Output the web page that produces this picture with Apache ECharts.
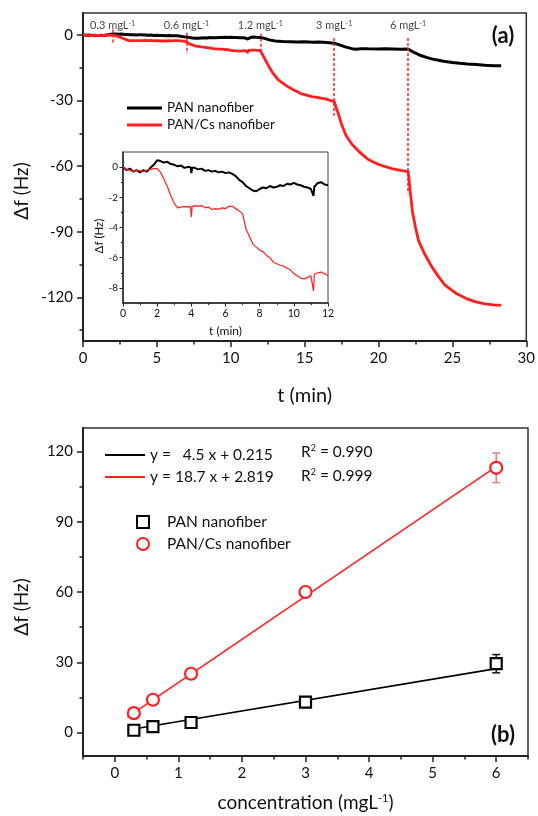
<!DOCTYPE html>
<html><head><meta charset="utf-8">
<script src="https://cdn.jsdelivr.net/npm/echarts@6/dist/echarts.min.js"></script>
<style>html,body{margin:0;padding:0;background:#fff}#c{width:538px;height:816px}</style>
</head><body><div id="c"></div>
<script>
// ---------- Panel (a) data ----------
const tEarly = [0,0.2,0.4,0.6,0.8,1.0,1.2,1.4,1.6,1.8,2.0,2.2,2.4,2.6,2.8,3.0,3.2,3.4,3.6,3.8,3.95,4.0,4.05,4.2,4.4,4.6,4.8,5.0,5.2,5.4,5.6,5.8,6.0,6.2,6.4,6.6,6.8,7.0,7.2,7.4,7.6,7.8,8.0,8.2,8.4,8.6,8.8,9.0,9.2,9.4,9.6,9.8,10.0,10.2,10.4,10.6,10.8,11.0,11.1,11.15,11.2,11.4,11.6,11.8,12.0];
const fPanEarly = [0,-0.2,-0.1,-0.3,-0.2,-0.35,-0.2,-0.3,-0.05,0.15,0.45,0.4,0.3,0.35,0.2,0.15,0.05,0.1,-0.05,0.0,0.0,-0.4,-0.05,-0.05,-0.15,-0.1,-0.25,-0.2,-0.3,-0.25,-0.35,-0.3,-0.4,-0.35,-0.45,-0.6,-0.85,-1.0,-1.25,-1.4,-1.55,-1.6,-1.45,-1.35,-1.4,-1.25,-1.35,-1.3,-1.2,-1.25,-1.1,-1.15,-1.05,-1.15,-1.2,-1.3,-1.35,-1.45,-1.4,-1.9,-1.3,-1.05,-1.0,-1.15,-1.2];
const fCsEarly = [0,-0.15,-0.2,-0.3,-0.2,-0.25,-0.3,-0.2,-0.15,-0.1,-0.1,-0.35,-0.8,-1.3,-1.9,-2.4,-2.7,-2.65,-2.6,-2.65,-2.6,-3.3,-2.6,-2.55,-2.6,-2.55,-2.7,-2.65,-2.8,-2.75,-2.8,-2.7,-2.75,-2.6,-2.6,-2.75,-2.9,-3.1,-4.1,-4.6,-5.1,-5.3,-5.5,-5.6,-5.85,-6.0,-6.3,-6.4,-6.5,-6.55,-6.7,-6.8,-7.05,-7.2,-7.35,-7.4,-7.3,-7.2,-7.2,-8.2,-7.1,-7.0,-6.95,-7.05,-7.2];
const tPanLate = [12.3,12.6,13.0,13.5,14.0,14.5,15.0,15.5,16.0,16.5,17.0,17.4,17.8,18.2,18.5,18.8,19.3,20.0,20.5,21.0,21.5,22.0,22.4,22.8,23.3,23.8,24.4,25.0,25.5,26.0,26.6,27.2,27.8,28.3];
const fPanLate = [-1.6,-2.3,-2.8,-3.0,-3.1,-3.3,-3.2,-3.4,-3.3,-3.5,-3.8,-4.7,-5.6,-6.3,-6.6,-6.3,-6.4,-6.5,-6.4,-6.5,-6.6,-6.5,-8.0,-9.3,-10.4,-11.3,-12.1,-12.6,-13.0,-13.3,-13.6,-13.9,-14.1,-14.1];
const tCsLate = [12.1,12.3,12.5,12.8,13.2,13.75,14.2,14.8,15.5,16.4,17.0,17.1,17.3,17.5,17.8,18.2,18.7,19.3,20.0,20.9,21.5,22.0,22.05,22.15,22.3,22.5,22.7,23.1,23.6,24.0,24.5,25.2,25.9,26.5,27.2,27.8,28.3];
const fCsLate = [-8.5,-11.0,-13.5,-17.0,-20.5,-23.2,-25.0,-27.0,-28.2,-29.3,-30.5,-32.5,-36.5,-41.0,-46.0,-50.0,-53.5,-57.0,-59.3,-61.2,-62.0,-62.5,-65,-72,-81,-88,-94,-100,-106,-110,-114.5,-118,-120.5,-122,-123,-123.5,-123.7];
// injections
const injT = [2, 7, 12, 17, 22];
const injConc = ['0.3', '0.6', '1.2', '3', '6'];
const dashTop = [2.5, 1, 0.5, -1.4, -1.4];
const dashBottom = [-3.5, -8.5, -7.5, -37, -72.6];
const labelLevel = 4.2;
// ticks
const aYMajor = [-120,-90,-60,-30,0];
const aYMinor = [-135,-105,-75,-45,-15];
const inYMajor = [-8,-6,-4,-2,0];
const inYMinor = [-7,-5,-3,-1];

// ---------- Panel (b) data ----------
const conc = [0.3, 0.6, 1.2, 3, 6];
const panMean = [1.0, 2.5, 4.3, 13.0, 29.4];
const panErr = [2.0, 2.0, 1.5, 1.5, 3.9];
const csMean = [8.3, 14.0, 25.1, 60.0, 113.0];
const csErr = [2.2, 1.5, 1.2, 2.0, 6.3];
const fitX = [0.2, 6];
const panFit = [1.1, 27.3];
const csFit = [6.6, 113.5];
const panFitName = 'y =   4.5 x + 0.215';
const csFitName = 'y = 18.7 x + 2.819';
const panR2 = '0.990';
const csR2 = '0.999';
const bXMajor = [0,1,2,3,4,5,6];
const bXMinor = [-0.5,0.5,1.5,2.5,3.5,4.5,5.5,6.5];
const bYMajor = [0,30,60,90,120];
const bYMinor = [15,45,75,105];

const FONT = 'Lato';
const RED = '#ff1f1f';
const AX = '#222';

const zip = (a, b) => a.map((v, i) => [v, b[i]]);
const panMain = zip(tEarly, fPanEarly).concat(zip(tPanLate, fPanLate));
const csMain = zip(tEarly, fCsEarly).concat(zip(tCsLate, fCsLate));
const panInset = zip(tEarly, fPanEarly);
const csInset = zip(tEarly, fCsEarly);

function axisBase(o) {
  return Object.assign({
    type: 'value',
    splitLine: {show: false},
    axisLine: {onZero: false, lineStyle: {color: AX, width: 2}},
    axisTick: {inside: false, length: 6, lineStyle: {color: AX, width: 1.5}},
    axisLabel: {fontSize: 15, color: '#111', fontFamily: FONT, margin: 10}
  }, o);
}
function minorAxis(o, vals, len, w) {
  return Object.assign({
    type: 'value',
    splitLine: {show: false},
    axisLine: {show: false, onZero: false},
    axisLabel: {show: false},
    axisTick: {show: true, inside: false, length: len, customValues: vals, lineStyle: {color: AX, width: w}}
  }, o);
}

function errRender(color) {
  return function (params, api) {
    const x = api.value(0), lo = api.value(1), hi = api.value(2);
    const a = api.coord([x, hi]), b = api.coord([x, lo]);
    const w = 4;
    const st = {stroke: color, lineWidth: 1.5};
    return {type: 'group', children: [
      {type: 'line', shape: {x1: a[0], y1: a[1], x2: b[0], y2: b[1]}, style: st},
      {type: 'line', shape: {x1: a[0] - w, y1: a[1], x2: a[0] + w, y2: a[1]}, style: st},
      {type: 'line', shape: {x1: b[0] - w, y1: b[1], x2: b[0] + w, y2: b[1]}, style: st}
    ]};
  };
}

const chart = echarts.init(document.getElementById('c'), null, {renderer: 'canvas'});
const option = {
  animation: false,
  backgroundColor: '#fff',
  textStyle: {fontFamily: FONT},
  grid: [
    {left: 83, top: 13, width: 445, height: 328, show: true, borderColor: '#333', borderWidth: 1.5, backgroundColor: 'transparent'},
    {left: 123, top: 152, width: 205, height: 151, show: true, borderColor: '#444', borderWidth: 1, backgroundColor: '#fff'},
    {left: 83, top: 428, width: 445, height: 328, show: true, borderColor: '#333', borderWidth: 1.5, backgroundColor: 'transparent'}
  ],
  xAxis: [
    axisBase({gridIndex: 0, position: 'bottom', min: 0, max: 30, interval: 5,
      minorTick: {show: true, splitNumber: 2, length: 3.5, lineStyle: {color: AX, width: 1.5}},
      name: 't (min)', nameLocation: 'middle', nameGap: 45,
      nameTextStyle: {fontSize: 20, color: '#111', fontFamily: FONT}}),
    axisBase({gridIndex: 1, position: 'bottom', min: 0, max: 12, interval: 2,
      axisLine: {onZero: false, lineStyle: {color: AX, width: 1.5}},
      axisTick: {inside: false, length: 3.5, lineStyle: {color: AX, width: 1}},
      minorTick: {show: true, splitNumber: 2, length: 2, lineStyle: {color: AX, width: 1}},
      axisLabel: {fontSize: 10.5, color: '#111', fontFamily: FONT, margin: 5},
      name: 't (min)', nameLocation: 'middle', nameGap: 22,
      nameTextStyle: {fontSize: 12, color: '#111', fontFamily: FONT}}),
    axisBase({gridIndex: 2, position: 'bottom', min: -0.5, max: 6.5,
      axisLabel: {fontSize: 15, color: '#111', fontFamily: FONT, margin: 10, customValues: bXMajor},
      axisTick: {inside: false, length: 6, customValues: bXMajor, lineStyle: {color: AX, width: 1.5}},
      name: '{n|concentration (mgL}{s|-1}{n|)}', nameLocation: 'middle', nameGap: 37,
      nameTextStyle: {fontSize: 19, color: '#111', fontFamily: FONT,
        rich: {n: {fontSize: 19, fontFamily: FONT, color: '#111'}, s: {fontSize: 11, fontFamily: FONT, color: '#111', verticalAlign: 'top'}}}}),
    minorAxis({gridIndex: 2, position: 'bottom', min: -0.5, max: 6.5}, bXMinor, 3.5, 1.5)
  ],
  yAxis: [
    axisBase({gridIndex: 0, position: 'left', min: -140, max: 10,
      axisLabel: {fontSize: 15, color: '#111', fontFamily: FONT, margin: 10, customValues: aYMajor},
      axisTick: {inside: false, length: 6, customValues: aYMajor, lineStyle: {color: AX, width: 1.5}}}),
    minorAxis({gridIndex: 0, position: 'left', min: -140, max: 10}, aYMinor, 3.5, 1.5),
    axisBase({gridIndex: 1, position: 'left', min: -9, max: 1,
      axisLine: {onZero: false, lineStyle: {color: AX, width: 1.5}},
      axisLabel: {fontSize: 10, color: '#111', fontFamily: FONT, margin: 5, customValues: inYMajor},
      axisTick: {inside: false, length: 3.5, customValues: inYMajor, lineStyle: {color: AX, width: 1}}}),
    minorAxis({gridIndex: 1, position: 'left', min: -9, max: 1}, inYMinor, 2, 1),
    axisBase({gridIndex: 2, position: 'left', min: -10, max: 130,
      axisLabel: {fontSize: 15, color: '#111', fontFamily: FONT, margin: 10, customValues: bYMajor},
      axisTick: {inside: false, length: 6, customValues: bYMajor, lineStyle: {color: AX, width: 1.5}}}),
    minorAxis({gridIndex: 2, position: 'left', min: -10, max: 130}, bYMinor, 3.5, 1.5)
  ],
  legend: [
    {data: ['PAN nanofiber', 'PAN/Cs nanofiber'], orient: 'vertical', left: 122, top: 96,
      icon: 'rect', itemWidth: 35, itemHeight: 3, itemGap: 3, selectedMode: false,
      textStyle: {fontSize: 13.5, color: '#111', fontFamily: FONT}},
    {data: [panFitName, csFitName], orient: 'vertical', left: 100, top: 442,
      icon: 'rect', itemWidth: 40, itemHeight: 2, itemGap: 6, selectedMode: false,
      textStyle: {fontSize: 15.5, color: '#111', fontFamily: FONT}},
    {data: [{name: 'PAN nanofiber ', icon: 'rect'}, {name: 'PAN/Cs nanofiber ', icon: 'circle'}],
      orient: 'vertical', left: 131, top: 509,
      itemWidth: 12, itemHeight: 12, itemGap: 6, selectedMode: false,
      textStyle: {fontSize: 15.5, color: '#111', fontFamily: FONT, padding: [0, 0, 0, 13]}}
  ],
  graphic: [
    {type: 'text', x: 503, y: 36, style: {text: '(a)', align: 'center', verticalAlign: 'middle', fontSize: 22, fontWeight: 'bold', fontFamily: FONT, fill: '#111'}},
    {type: 'text', x: 503, y: 735, style: {text: '(b)', align: 'center', verticalAlign: 'middle', fontSize: 22, fontWeight: 'bold', fontFamily: FONT, fill: '#111'}},
    {type: 'text', x: 22, y: 191, rotation: Math.PI / 2, style: {text: 'Δf (Hz)', align: 'center', verticalAlign: 'middle', fontSize: 19, fontFamily: FONT, fill: '#111'}},
    {type: 'text', x: 22, y: 607, rotation: Math.PI / 2, style: {text: 'Δf (Hz)', align: 'center', verticalAlign: 'middle', fontSize: 19, fontFamily: FONT, fill: '#111'}},
    {type: 'text', x: 99, y: 236, rotation: Math.PI / 2, style: {text: 'Δf (Hz)', align: 'center', verticalAlign: 'middle', fontSize: 11.5, fontFamily: FONT, fill: '#111'}},
    {type: 'text', x: 301, y: 452, style: {text: '{n|R}{s|2}{n| = ' + panR2 + '}', verticalAlign: 'middle', fontFamily: FONT, fill: '#111',
      rich: {n: {fontSize: 15.5, fontFamily: FONT}, s: {fontSize: 9, fontFamily: FONT, verticalAlign: 'top'}}}},
    {type: 'text', x: 301, y: 476, style: {text: '{n|R}{s|2}{n| = ' + csR2 + '}', verticalAlign: 'middle', fontFamily: FONT, fill: '#111',
      rich: {n: {fontSize: 15.5, fontFamily: FONT}, s: {fontSize: 9, fontFamily: FONT, verticalAlign: 'top'}}}}
  ],
  series: [
    {type: 'line', name: 'PAN nanofiber', xAxisIndex: 0, yAxisIndex: 0, data: panMain, symbol: 'none',
      color: '#000', lineStyle: {color: '#000', width: 3}, z: 3},
    {type: 'line', name: 'PAN/Cs nanofiber', xAxisIndex: 0, yAxisIndex: 0, data: csMain, symbol: 'none',
      color: RED, lineStyle: {color: RED, width: 2.8}, z: 3,
      markLine: {silent: true, symbol: 'none', label: {show: false},
        lineStyle: {color: RED, type: [3, 2], width: 1.5},
        data: injT.map((t, i) => [{coord: [t, dashTop[i]]}, {coord: [t, dashBottom[i]]}])}},
    {type: 'scatter', xAxisIndex: 0, yAxisIndex: 0, symbolSize: 0, silent: true,
      data: injT.map((t, i) => ({value: [t, labelLevel], name: injConc[i]})),
      label: {show: true, position: 'inside', color: '#111',
        formatter: p => '{n|' + p.name + ' mgL}{s|-1}',
        rich: {n: {fontSize: 11, fontFamily: FONT, color: '#111'}, s: {fontSize: 7, fontFamily: FONT, color: '#111', verticalAlign: 'top'}}}},
    {type: 'line', name: 'insetPAN', xAxisIndex: 1, yAxisIndex: 2, data: panInset, symbol: 'none',
      lineStyle: {color: '#000', width: 2}, z: 4},
    {type: 'line', name: 'insetCs', xAxisIndex: 1, yAxisIndex: 2, data: csInset, symbol: 'none',
      lineStyle: {color: RED, width: 1.2}, z: 4},
    {type: 'line', name: panFitName, xAxisIndex: 2, yAxisIndex: 4, data: zip(fitX, panFit), symbol: 'none',
      color: '#000', lineStyle: {color: '#000', width: 1.6}},
    {type: 'line', name: csFitName, xAxisIndex: 2, yAxisIndex: 4, data: zip(fitX, csFit), symbol: 'none',
      color: RED, lineStyle: {color: RED, width: 1.6}},
    {type: 'custom', xAxisIndex: 2, yAxisIndex: 4, renderItem: errRender('#111'), z: 3,
      data: conc.map((c, i) => [c, panMean[i] - panErr[i], panMean[i] + panErr[i]]), encode: {x: 0, y: [1, 2]}},
    {type: 'custom', xAxisIndex: 2, yAxisIndex: 4, renderItem: errRender('#f27a7a'), z: 3,
      data: conc.map((c, i) => [c, csMean[i] - csErr[i], csMean[i] + csErr[i]]), encode: {x: 0, y: [1, 2]}},
    {type: 'scatter', name: 'PAN nanofiber ', xAxisIndex: 2, yAxisIndex: 4, data: zip(conc, panMean),
      symbol: 'rect', symbolSize: 11, z: 4,
      itemStyle: {color: '#fff', borderColor: '#000', borderWidth: 2.2, opacity: 1}},
    {type: 'scatter', name: 'PAN/Cs nanofiber ', xAxisIndex: 2, yAxisIndex: 4, data: zip(conc, csMean),
      symbol: 'circle', symbolSize: 12, z: 4,
      itemStyle: {color: '#fff', borderColor: RED, borderWidth: 2.2, opacity: 1}}
  ]
};
chart.setOption(option);
</script>
</body></html>
